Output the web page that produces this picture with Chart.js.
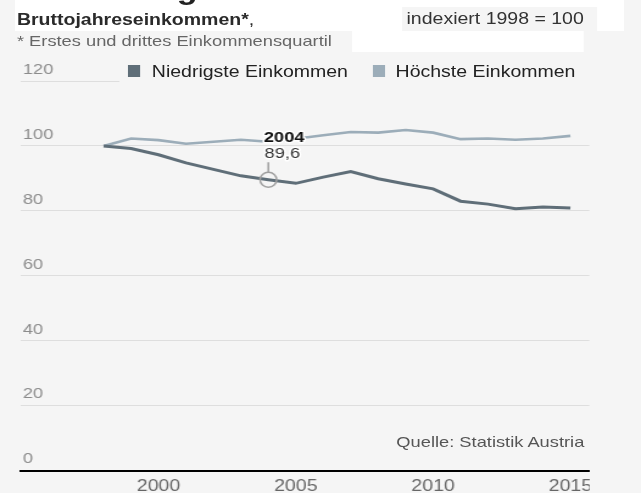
<!DOCTYPE html>
<html>
<head>
<meta charset="utf-8">
<script src="https://cdn.jsdelivr.net/npm/chart.js@4"></script>
<style>
  html, body { margin: 0; padding: 0; background: #f5f5f5; overflow: hidden; }
  body { width: 641px; height: 493px; position: relative; font-family: "Liberation Sans", Arial, sans-serif; }
  #stage { position: absolute; left: 0; top: 0; width: 526px; height: 493px; transform: scaleX(1.2186); transform-origin: 0 0; }
  #wrap { position: absolute; left: 0; top: 0; width: 526px; height: 493px; }
  .abs { position: absolute; white-space: nowrap; }
  .box { position: absolute; }
</style>
</head>
<body>
<div id="stage">
  <div id="wrap"><canvas id="chart"></canvas></div>

  <!-- header -->
  <div class="box" style="left:12.3px;top:0;width:500px;height:31px;background:#fff"></div>
  <div class="box" style="left:289.3px;top:31px;width:190px;height:21px;background:#fff"></div>
  <div class="box" style="left:329.5px;top:7px;width:160px;height:24px;background:#f5f5f5"></div>
  <div class="abs" style="left:145px;top:-26px;font-size:28px;line-height:32px;font-weight:bold;color:#222">g</div>
  <div class="abs" style="left:13.9px;top:9.5px;font-size:16px;line-height:20px;color:#2a2a2a"><b>Bruttojahreseinkommen*</b>,</div>
  <div class="abs" style="left:13.9px;top:31.8px;font-size:15px;line-height:18px;color:#666">* Erstes und drittes Einkommensquartil</div>
  <div class="abs" style="left:333.6px;top:8.5px;font-size:16px;line-height:20px;color:#333">indexiert 1998 = 100</div>

  <!-- legend -->
  <div class="box" style="left:98.4px;top:58px;width:393px;height:27px;background:#f5f5f5"></div>
  <div class="box" id="sq1" style="left:104.5px;top:64.5px;width:10px;height:12px"></div>
  <div class="abs" id="lg1" style="left:124.6px;top:62px;font-size:16px;line-height:20px;color:#222"></div>
  <div class="box" id="sq2" style="left:305.5px;top:64.5px;width:10px;height:12px"></div>
  <div class="abs" id="lg2" style="left:324.6px;top:62px;font-size:16px;line-height:20px;color:#222"></div>

  <!-- source -->
  <div class="abs" style="right:46.5px;top:433px;font-size:15px;line-height:18px;color:#555">Quelle: Statistik Austria</div>

  <!-- right edge of the cut-off picture -->
  <div class="box" style="left:484px;top:473px;width:42px;height:20px;background:#f5f5f5"></div>
</div>

<script>
// data
const years = [1998, 1999, 2000, 2001, 2002, 2003, 2004, 2005, 2006, 2007, 2008, 2009, 2010, 2011, 2012, 2013, 2014, 2015];
const niedrigste = [100, 99.2, 97.3, 94.8, 92.8, 90.8, 89.6, 88.5, 90.4, 92.1, 89.9, 88.3, 86.8, 83.0, 82.1, 80.7, 81.2, 80.9];
const hoechste = [100, 102.3, 101.8, 100.7, 101.3, 101.9, 101.3, 102.2, 103.3, 104.3, 104.1, 104.9, 104.1, 102.1, 102.3, 101.9, 102.3, 103.1];
const seriesNames = ["Niedrigste Einkommen", "Höchste Einkommen"];
const seriesColors = ["#5f6e78", "#9cadb9"];
const xTicks = [2000, 2005, 2010, 2015];
const yTicks = [0, 20, 40, 60, 80, 100, 120];
const markYear = 2004;
const markValue = 89.6;

const FONT = '"Liberation Sans", Arial, sans-serif';

document.getElementById("sq1").style.background = seriesColors[0];
document.getElementById("sq2").style.background = seriesColors[1];
document.getElementById("lg1").textContent = seriesNames[0];
document.getElementById("lg2").textContent = seriesNames[1];

function toPoints(vals) {
    return years.map((y, i) => ({ x: y, y: vals[i] }));
}

// marker for 2004 with label
const markerPlugin = {
    id: "marker",
    afterDatasetsDraw(chart) {
        const ctx = chart.ctx;
        const px = chart.scales.x.getPixelForValue(markYear);
        const py = chart.scales.y.getPixelForValue(markValue);
        ctx.save();
        ctx.strokeStyle = "#a0a0a0";
        ctx.lineWidth = 1.5;
        ctx.beginPath();
        ctx.ellipse(px, py, 6.8, 7.4, 0, 0, Math.PI * 2);
        ctx.stroke();
        ctx.beginPath();
        ctx.moveTo(px, py - 7.4);
        ctx.lineTo(px, py - 17.5);
        ctx.stroke();

        ctx.textAlign = "center";
        ctx.textBaseline = "alphabetic";
        ctx.lineJoin = "round";
        ctx.strokeStyle = "#fff";
        ctx.lineWidth = 3;
        ctx.font = "bold 15px " + FONT;
        ctx.strokeText(String(markYear), px + 13, py - 38);
        ctx.fillStyle = "#111";
        ctx.fillText(String(markYear), px + 13, py - 38);
        ctx.font = "15px " + FONT;
        const lbl = String(markValue).replace(".", ",");
        ctx.strokeText(lbl, px + 11.5, py - 21.3);
        ctx.fillStyle = "#333";
        ctx.fillText(lbl, px + 11.5, py - 21.3);
        ctx.restore();
    }
};

new Chart(document.getElementById("chart"), {
    type: "line",
    data: {
        datasets: [
            { label: seriesNames[0], data: toPoints(niedrigste), borderColor: seriesColors[0], borderWidth: 3, pointRadius: 0, tension: 0, fill: false },
            { label: seriesNames[1], data: toPoints(hoechste), borderColor: seriesColors[1], borderWidth: 2.6, pointRadius: 0, tension: 0, fill: false }
        ]
    },
    options: {
        responsive: true,
        maintainAspectRatio: false,
        animation: false,
        events: [],
        layout: { padding: { left: 12.75, right: 42.4, top: 81, bottom: -9 } },
        plugins: { legend: { display: false }, tooltip: { enabled: false } },
        scales: {
            x: {
                type: "linear",
                min: 1994.97,
                max: 2015.69,
                afterBuildTicks: (axis) => { axis.ticks = xTicks.map(v => ({ value: v })); },
                grid: { display: true, color: "transparent", drawTicks: false },
                border: { display: true, color: "#000", width: 2 },
                ticks: { color: "#666", padding: 6, font: { family: FONT, size: 16 }, maxRotation: 0, callback: v => String(v) }
            },
            y: {
                min: 0,
                max: 120,
                afterBuildTicks: (axis) => { axis.ticks = yTicks.map(v => ({ value: v })); },
                grid: { color: "#dedede", lineWidth: 1, drawTicks: false },
                border: { display: false },
                ticks: { mirror: true, padding: 2, labelOffset: -11.5, color: "#8c8c8c", font: { family: FONT, size: 15 } }
            }
        }
    },
    plugins: [markerPlugin]
});
</script>
</body>
</html>
